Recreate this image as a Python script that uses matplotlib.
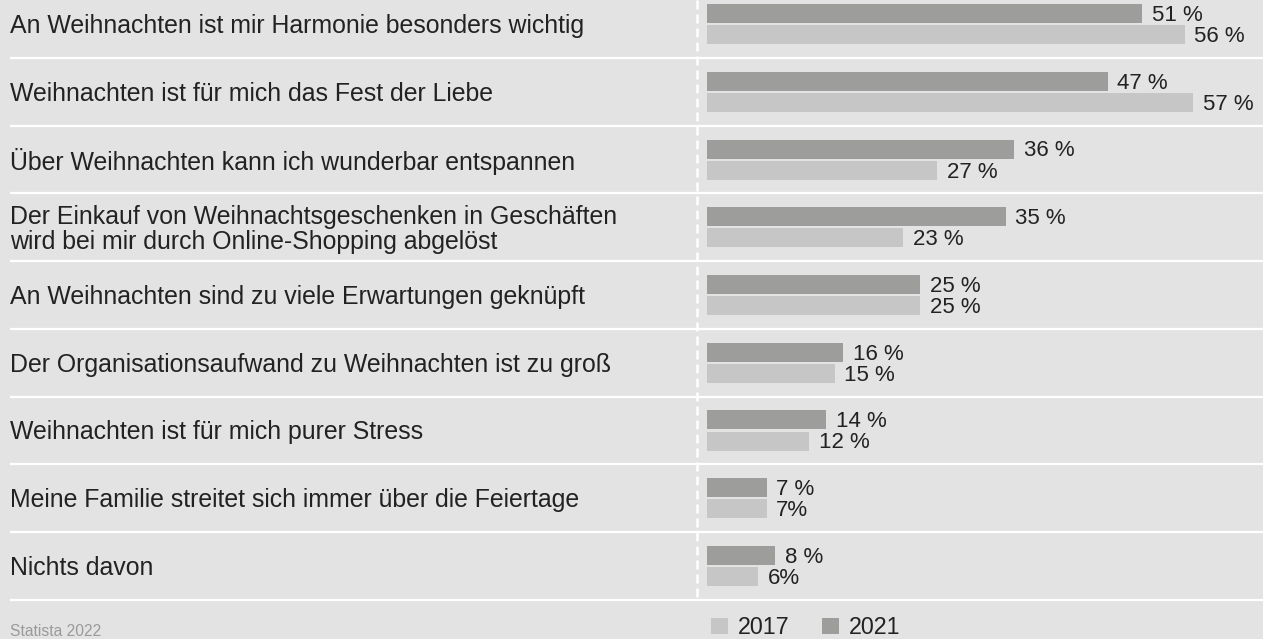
import matplotlib
matplotlib.use("Agg")
import matplotlib.pyplot as plt
from matplotlib.patches import Patch
from matplotlib.transforms import blended_transform_factory

categories = [
    "An Weihnachten ist mir Harmonie besonders wichtig",
    "Weihnachten ist für mich das Fest der Liebe",
    "Über Weihnachten kann ich wunderbar entspannen",
    "Der Einkauf von Weihnachtsgeschenken in Geschäften\nwird bei mir durch Online-Shopping abgelöst",
    "An Weihnachten sind zu viele Erwartungen geknüpft",
    "Der Organisationsaufwand zu Weihnachten ist zu groß",
    "Weihnachten ist für mich purer Stress",
    "Meine Familie streitet sich immer über die Feiertage",
    "Nichts davon",
]
values_2021 = [51, 47, 36, 35, 25, 16, 14, 7, 8]
values_2017 = [56, 57, 27, 23, 25, 15, 12, 7, 6]
labels_2021 = ["51 %", "47 %", "36 %", "35 %", "25 %", "16 %", "14 %", "7 %", "8 %"]
labels_2017 = ["56 %", "57 %", "27 %", "23 %", "25 %", "15 %", "12 %", "7%", "6%"]
years = ["2017", "2021"]
source = "Statista 2022"

BG = "#e3e3e3"
DARK = "#9d9d9c"
LIGHT = "#c6c6c6"
TXT = "#222222"

FONT = ["Liberation Sans", "DejaVu Sans"]

W, H = 1263, 639
fig = plt.figure(figsize=(W / 100, H / 100), dpi=100, facecolor=BG)
renderer = fig.canvas.get_renderer()


def fit_size(text, target_px, family, base=14.0):
    t = fig.text(0, 0, text, fontsize=base, family=family)
    w = t.get_window_extent(renderer=renderer).width
    t.remove()
    return base * target_px / w


CAT_FS = fit_size(categories[0], 579, FONT)
PCT_FS = fit_size(labels_2021[0], 51, FONT)
LEG_FS = fit_size(years[0], 52, FONT)
SRC_FS = fit_size(source, 92, FONT)

ax = fig.add_axes([0, 0, 1, 1])
ax.set_facecolor(BG)
for s in ax.spines.values():
    s.set_visible(False)
ax.set_xticks([])
ax.set_yticks([])

px_per_pct = 8.53
x0_px = 707
row_px = 67.75
row0_px = 24
ax.set_xlim(-x0_px / px_per_pct, (W - x0_px) / px_per_pct)
ax.set_ylim((H - row0_px) / row_px, -row0_px / row_px)

n = len(categories)
ys = list(range(n))
bh = 19 / row_px
off = 10.5 / row_px
txt_shift = 2.0 / row_px

ax.barh([y - off for y in ys], values_2021, height=bh, color=DARK, left=0, zorder=3)
ax.barh([y + off for y in ys], values_2017, height=bh, color=LIGHT, left=0, zorder=3)

gap = 9.5 / px_per_pct
for y, v, l in zip(ys, values_2021, labels_2021):
    ax.text(v + gap, y - off + txt_shift, l, va="center", ha="left", fontsize=PCT_FS,
            color=TXT, family=FONT)
for y, v, l in zip(ys, values_2017, labels_2017):
    ax.text(v + gap, y + off + txt_shift, l, va="center", ha="left", fontsize=PCT_FS,
            color=TXT, family=FONT)

trans = blended_transform_factory(ax.transAxes, ax.transData)
for y, c in zip(ys, categories):
    ax.text(10 / W, y + txt_shift, c, transform=trans, va="center", ha="left",
            fontsize=CAT_FS, color=TXT, family=FONT, linespacing=1.05)

# separators
for y in ys:
    ax.plot([10 / W, 1], [y + 0.5, y + 0.5], transform=trans, color="white",
            lw=1.6, zorder=2, solid_capstyle="butt")

# dashed vertical line
xd = -10.3 / px_per_pct
ax.plot([xd, xd], [-row0_px / row_px, n - 0.5], color="white", lw=1.8,
        dashes=(3.6, 2.0), zorder=2)

em = LEG_FS * 100 / 72
handles = [Patch(facecolor=LIGHT, edgecolor="none"), Patch(facecolor=DARK, edgecolor="none")]
leg = fig.legend(handles, years, loc="upper left",
                 bbox_to_anchor=(711 / W, 1 - 616 / H), ncol=2, frameon=False,
                 handlelength=17 / em, handleheight=17 / em, handletextpad=10 / em,
                 columnspacing=32 / em, borderaxespad=0, borderpad=0,
                 prop={"family": FONT, "size": LEG_FS})
for t in leg.get_texts():
    t.set_color(TXT)

fig.text(10 / W, 1 - 624 / H, source, ha="left", va="top", fontsize=SRC_FS,
         color="#9a9a9a", family=FONT)

fig.savefig("out.png", dpi=100, facecolor=BG)
